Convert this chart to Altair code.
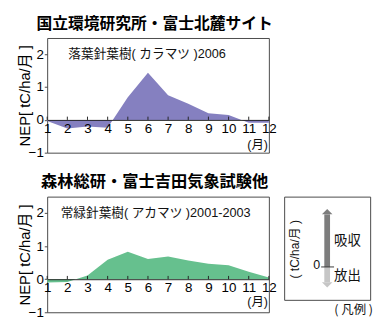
import altair as alt
import pandas as pd

# ---- data ----
months = list(range(1, 13))
top_nep = [-0.03, -0.26, -0.20, -0.24, 0.69, 1.44, 0.75, 0.49, 0.20, 0.15, -0.09, -0.09]
bottom_nep = [-0.10, -0.08, 0.11, 0.59, 0.83, 0.61, 0.69, 0.57, 0.47, 0.42, 0.23, 0.05]
y_ticks = [-1, 0, 1, 2]
y_domain = [-1, 2.5]
tick_len = 0.1

top_title = "国立環境研究所・富士北麓サイト"
bottom_title = "森林総研・富士吉田気象試験他"
top_note = "落葉針葉樹( カラマツ )2006"
bottom_note = "常緑針葉樹( アカマツ )2001-2003"
y_title = "NEP[ tC/ha/月 ]"
month_unit = "(月)"

legend_unit = "( tC/ha/月 )"
legend_caption = "( 凡例 )"
legend_words = ["吸収", "放出"]
legend_word_y = [0.91, -0.33]
legend_domain = [-1.17, 2.5]
arrow_ends = [1.87, -0.54]
arrow_colors = ["#7d7d7d", "#c6c6c6"]
arrow_shapes = ["M-1,0L1,0L0,-1Z", "M-1,0L1,0L0,1Z"]

LATIN = "Liberation Sans, Noto Sans CJK JP"
CJK = "Noto Sans CJK JP"
PURPLE = "#8580c0"
GREEN = "#66c08e"


def panel(values, color, title, title_size, note, note_x, unit_y, height):
    df = pd.DataFrame({"month": months, "nep": values, "zero": [0] * 12,
                       "tick": [tick_len] * 12})
    xs = alt.Scale(domain=[1, 12], nice=False, zero=False)
    ys = alt.Scale(domain=y_domain, nice=False)
    x_axis = alt.Axis(values=months, title=None, offset=-height / 3.5, tickSize=0,
                      labelFontSize=14, labelPadding=2, labelFlush=False,
                      labelOverlap=False, labelBound=False, grid=False,
                      domainColor="#222", labelColor="black", labelFont=LATIN,
                      format="d", zindex=1)
    y_axis = alt.Axis(values=y_ticks, title=y_title, tickSize=3, tickColor="#444",
                      labelFontSize=14, labelPadding=1, labelColor="black",
                      labelFont=LATIN, grid=False, domain=False,
                      titleFont=LATIN, titleFontSize=15.5, titleFontWeight="normal",
                      titleColor="black", titlePadding=-4)

    def X(f):
        return alt.X(f, scale=xs, axis=x_axis)

    def Y(f):
        return alt.Y(f, scale=ys, axis=y_axis)

    area = alt.Chart(df).mark_area(color=color, opacity=1).encode(
        x=X("month:Q"), y=Y("nep:Q"))
    ticks = alt.Chart(df).mark_rule(color="#222", strokeWidth=1).encode(
        x=X("month:Q"), y=Y("zero:Q"), y2="tick:Q")
    txt_df = pd.DataFrame({"t": [note, month_unit], "x": [note_x, 12],
                           "y": [2, unit_y], "a": ["note", "unit"]})
    note_txt = alt.Chart(txt_df).transform_filter("datum.a == 'note'").mark_text(
        align="left", baseline="middle", fontSize=13.25, font=LATIN, color="#111"
    ).encode(x=X("x:Q"), y=Y("y:Q"), text="t:N")
    unit_txt = alt.Chart(txt_df).transform_filter("datum.a == 'unit'").mark_text(
        align="right", baseline="middle", fontSize=13, font=LATIN, color="#111", dx=-1
    ).encode(x=X("x:Q"), y=Y("y:Q"), text="t:N")
    return alt.layer(area, ticks, note_txt, unit_txt).properties(
        width=232, height=height,
        title=alt.TitleParams(title, fontSize=title_size, font=CJK, fontWeight="bold",
                              color="black", anchor="middle", frame="group",
                              dx=-3.5, offset=6),
    )


top = panel(top_nep, PURPLE, top_title, 16.5, top_note, 2.05, -0.76, 120)
bottom = panel(bottom_nep, GREEN, bottom_title, 17, bottom_note, 1.67, -0.68, 121)

# ---- legend panel ----
lx = alt.Scale(domain=[0, 1], nice=False)
ly = alt.Scale(domain=legend_domain, nice=False)
arrow_df = pd.DataFrame({"y": [0, 0], "y2": arrow_ends,
                         "c": arrow_colors, "s": arrow_shapes, "x": [0.5, 0.5]})
shaft = alt.Chart(arrow_df).mark_rule(strokeWidth=6).encode(
    x=alt.X("x:Q", scale=lx, axis=None),
    y=alt.Y("y:Q", scale=ly, axis=None), y2="y2:Q",
    color=alt.Color("c:N", scale=None))
heads = alt.Chart(arrow_df).mark_point(filled=True, size=121, opacity=1).encode(
    x=alt.X("x:Q", scale=lx, axis=None),
    y=alt.Y("y2:Q", scale=ly, axis=None),
    shape=alt.Shape("s:N", scale=None),
    color=alt.Color("c:N", scale=None))
zero_df = pd.DataFrame({"x": [0.43], "x2": [0.58], "y": [0], "t": ["0"]})
zero_line = alt.Chart(zero_df).mark_rule(color="#333", strokeWidth=1).encode(
    x=alt.X("x:Q", scale=lx, axis=None), x2="x2:Q",
    y=alt.Y("y:Q", scale=ly, axis=None))
zero_txt = alt.Chart(zero_df).mark_text(
    align="right", baseline="middle", fontSize=13, font=LATIN, color="#111", dx=-1, dy=-2
).encode(x=alt.X("x:Q", scale=lx, axis=None), y=alt.Y("y:Q", scale=ly, axis=None),
         text="t:N")
words_df = pd.DataFrame({"t": legend_words, "y": legend_word_y, "x": [0.58, 0.58]})
words = alt.Chart(words_df).mark_text(
    align="left", baseline="middle", fontSize=14, font=CJK, color="#111"
).encode(x=alt.X("x:Q", scale=lx, axis=None), y=alt.Y("y:Q", scale=ly, axis=None),
         text="t:N")
unit_df = pd.DataFrame({"t": [legend_unit], "x": [0.133], "y": [0.63]})
unit_v = alt.Chart(unit_df).mark_text(
    align="center", baseline="middle", fontSize=12.5, font=LATIN, color="#111", angle=270
).encode(x=alt.X("x:Q", scale=lx, axis=None), y=alt.Y("y:Q", scale=ly, axis=None),
         text="t:N")

legend = alt.layer(shaft, heads, zero_line, zero_txt, words, unit_v).properties(
    width=90, height=108,
    title=alt.TitleParams(legend_caption, orient="bottom", anchor="end", fontSize=13,
                          font=CJK, fontWeight="normal", color="#111", offset=5, dx=3),
)

chart = alt.vconcat(
    top,
    alt.hconcat(bottom, legend, spacing=6),
    spacing=13,
).properties(padding={"left": 9, "top": 1, "right": 0, "bottom": 0}).configure_view(
    stroke="#444", strokeWidth=1
).configure_axis(labelOverlap=False)

chart.save("out.html", embed_options={"renderer": "svg", "actions": False})
